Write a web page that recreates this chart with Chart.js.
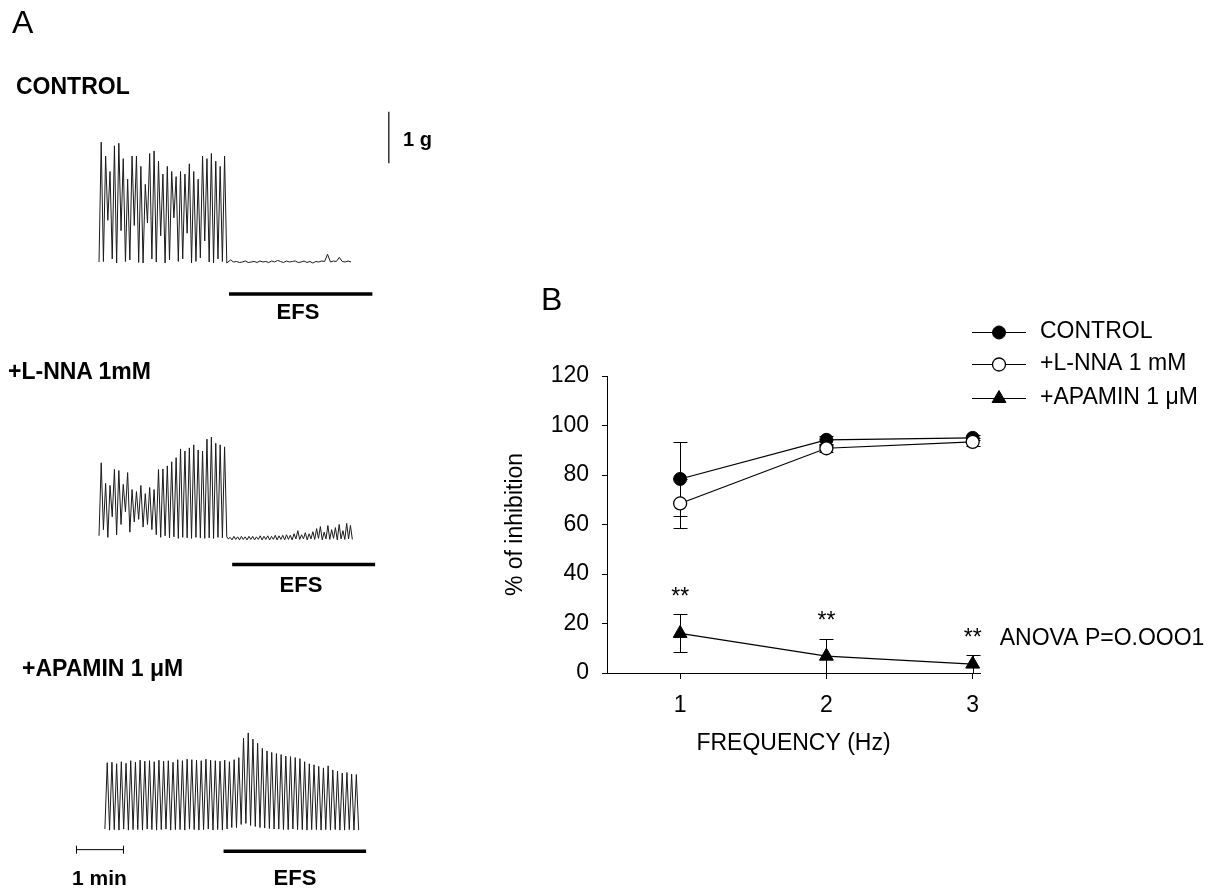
<!DOCTYPE html>
<html>
<head>
<meta charset="utf-8">
<script src="https://cdn.jsdelivr.net/npm/chart.js@4.4.1/dist/chart.umd.min.js"></script>
<style>
  body { margin:0; background:#fff; width:1227px; height:890px; position:relative; overflow:hidden;
         font-family:"Liberation Sans", Arial, sans-serif; color:#000; }
  canvas { position:absolute; }
  .lbl { position:absolute; white-space:nowrap; line-height:1; }
  .b { font-weight:bold; }
  .c { transform:translateX(-50%); }
</style>
</head>
<body>
<canvas id="traces" width="480" height="890" style="left:0;top:0;width:480px;height:890px"></canvas>
<canvas id="freqChart" width="747" height="520" style="left:480px;top:280px;width:747px;height:520px"></canvas>

<div class="lbl" style="left:12px;top:6px;font-size:32px">A</div>
<div class="lbl" style="left:541px;top:283px;font-size:32px">B</div>
<div class="lbl b" style="left:16px;top:75px;font-size:23px">CONTROL</div>
<div class="lbl b" style="left:8px;top:360px;font-size:23px">+L-NNA 1mM</div>
<div class="lbl b" style="left:22px;top:657px;font-size:23px">+APAMIN 1 μM</div>
<div class="lbl b" style="left:403px;top:129px;font-size:20px">1 g</div>
<div class="lbl b c" style="left:298px;top:301px;font-size:22px">EFS</div>
<div class="lbl b c" style="left:301px;top:574px;font-size:22px">EFS</div>
<div class="lbl b c" style="left:295px;top:867px;font-size:22px">EFS</div>
<div class="lbl b" style="left:72px;top:867px;font-size:21px">1 min</div>

<script>
// ---- panel A : tension recordings (g) ----
// each trace = trough, peak, trough, peak ... then the EFS part
const ctrlPeaks = [2.37, 2.10, 1.80, 2.30, 2.35, 2.05, 1.65, 2.10, 2.10, 1.90, 1.55, 2.15, 2.20, 2.00, 1.75,
                   1.90, 1.80, 1.70, 1.80, 1.75, 1.95, 1.80, 1.65, 2.10, 2.05, 2.15, 2.00, 1.90, 2.10];
const ctrlTroughs = [0.04, 0.05, 0.85, 0.10, 0.02, 0.65, 0.05, 0.08, 0.75, 0.03, 0.02, 0.80, 0.10, 0.04, 0.55,
                     0.02, 0.08, 0.90, 0.05, 0.10, 0.60, 0.02, 0.05, 0.12, 0.45, 0.04, 0.02, 0.10, 0.05, 0.02];
const ctrlEfs = [0.08, 0.04, 0.05, 0.03, 0.04, 0.06, 0.03, 0.04, 0.05, 0.03, 0.06, 0.04, 0.05, 0.03,
                 0.06, 0.04, 0.07, 0.05, 0.03, 0.06, 0.04, 0.05, 0.06, 0.03, 0.04, 0.06, 0.03, 0.05,
                 0.02, 0.05, 0.04, 0.06, 0.05, 0.19, 0.04, 0.06, 0.05, 0.13, 0.05, 0.04, 0.06, 0.04];

const lnnaPeaks = [1.50, 1.10, 1.06, 1.37, 1.35, 1.08, 1.31, 0.98, 0.94, 1.06, 0.90, 1.02, 0.98, 1.37, 1.38,
                   1.44, 1.52, 1.60, 1.77, 1.73, 1.79, 1.85, 1.75, 1.73, 1.96, 2.00, 1.88, 1.85, 1.81];
const lnnaTroughs = [0.08, 0.20, 0.05, 0.45, 0.10, 0.30, 0.55, 0.15, 0.35, 0.40, 0.25, 0.30, 0.20, 0.10, 0.05,
                     0.08, 0.04, 0.06, 0.03, 0.05, 0.04, 0.03, 0.05, 0.04, 0.03, 0.04, 0.03, 0.05, 0.04, 0.06];
const lnnaEfsPeaks = [0.05, 0.07, 0.06, 0.07, 0.06, 0.07, 0.07, 0.06, 0.08, 0.07, 0.08, 0.07, 0.09, 0.08, 0.09,
                      0.10, 0.09, 0.12, 0.18, 0.10, 0.14, 0.12, 0.16, 0.22, 0.26, 0.15, 0.28, 0.20, 0.24, 0.30,
                      0.18, 0.32, 0.28];
const lnnaEfsTroughs = [0.02, 0.00, 0.01, 0.00, 0.01, 0.00, 0.01, 0.00, 0.01, 0.00, 0.01, 0.00, 0.01, 0.00, 0.01,
                        0.00, 0.01, 0.00, 0.02, 0.01, 0.02, 0.00, 0.02, 0.01, 0.03, 0.00, 0.02, 0.01, 0.03, 0.00,
                        0.02, 0.01, 0.02, 0.01];

const apaPeaks = [1.32, 1.33, 1.30, 1.34, 1.31, 1.36, 1.33, 1.37, 1.35, 1.36, 1.34, 1.37, 1.35, 1.36, 1.33,
                  1.38, 1.36, 1.39, 1.38, 1.37, 1.36, 1.39, 1.37, 1.36, 1.35, 1.37, 1.34, 1.38, 1.42,
                  1.80, 1.90, 1.78, 1.70, 1.60, 1.55, 1.52, 1.50, 1.48, 1.45, 1.44, 1.42, 1.40, 1.34, 1.30,
                  1.28, 1.25, 1.22, 1.26, 1.18, 1.16, 1.12, 1.13, 1.10, 1.09];
const apaTroughs = [0.03, 0.01, 0.02, 0.01, 0.03, 0.01, 0.02, 0.02, 0.01, 0.03, 0.02, 0.01, 0.02, 0.03, 0.01,
                    0.02, 0.02, 0.01, 0.03, 0.02, 0.01, 0.02, 0.03, 0.01, 0.02, 0.01, 0.03, 0.06,
                    0.06, 0.12, 0.14, 0.10, 0.08, 0.06, 0.05, 0.04, 0.03, 0.03, 0.02, 0.02, 0.03, 0.02,
                    0.02, 0.01, 0.02, 0.02, 0.01, 0.02, 0.01, 0.02, 0.01, 0.01, 0.02, 0.01, 0.01];

// EFS periods (s) for each recording, and the scale bars
const efsStart = [166, 170, 159];
const efsEnd = [349, 352.5, 341];
const gramBar = 1;     // g
const minuteBar = 60;  // s

// ---- panel B : % of inhibition vs frequency ----
const freqs = [1, 2, 3];
const controlMean = [78.4, 94.2, 95.0];
const controlSem = [15.0, 1.5, 1.0];
const lnnaMean = [68.5, 90.8, 93.4];
const lnnaSem = [10.0, 1.5, 1.5];
const apaminMean = [16.0, 6.8, 3.6];
const apaminSem = [7.7, 6.9, 3.5];
const sigLabels = ['**', '**', '**'];
const legendNames = ['CONTROL', '+L-NNA 1 mM', '+APAMIN 1 μM'];

const FONT = '"Liberation Sans", Arial, sans-serif';

// ---------- panel A ----------
const PX_PER_G = 52, H = 890;
function hiddenY(basePx) {
  return { display: false, min: -(H - basePx) / PX_PER_G, max: basePx / PX_PER_G };
}
function buildTrace(t0, half, peaks, troughs) {
  const pts = [];
  for (let i = 0; i < peaks.length; i++) {
    pts.push({ x: t0 + 2 * i * half, y: troughs[i] });
    pts.push({ x: t0 + (2 * i + 1) * half, y: peaks[i] });
  }
  if (troughs.length > peaks.length) pts.push({ x: t0 + 2 * peaks.length * half, y: troughs[peaks.length] });
  return pts;
}
function buildFlat(t0, step, vals) {
  return vals.map((v, i) => ({ x: t0 + i * step, y: v }));
}

const ctrlData = buildTrace(0, 2.8125, ctrlPeaks, ctrlTroughs).concat(buildFlat(168, 3.75, ctrlEfs));
const lnnaData = buildTrace(0, 2.8125, lnnaPeaks, lnnaTroughs).concat(buildTrace(165, 2.4, lnnaEfsPeaks, lnnaEfsTroughs));
const apaData = buildTrace(7.5, 3.0, apaPeaks, apaTroughs);

const traceStyle = { borderColor: '#1a1a1a', borderWidth: 1, pointRadius: 0, tension: 0, fill: false };
const barLevel = [-0.58, -0.48, -0.40];
const axesIds = ['yC', 'yL', 'yA'];

const traceSets = [
  Object.assign({ data: ctrlData, yAxisID: 'yC' }, traceStyle),
  Object.assign({ data: lnnaData, yAxisID: 'yL' }, traceStyle),
  Object.assign({ data: apaData, yAxisID: 'yA' }, traceStyle)
];
efsStart.forEach((s, k) => {
  traceSets.push({ data: [{ x: s, y: barLevel[k] }, { x: efsEnd[k], y: barLevel[k] }], yAxisID: axesIds[k],
                   borderColor: '#000', borderWidth: 3.5, pointRadius: 0, borderCapStyle: 'butt' });
});
// 1 g vertical bar
traceSets.push({ data: [{ x: 370, y: 1.96 }, { x: 370, y: 1.96 + gramBar }], yAxisID: 'yC',
                 borderColor: '#000', borderWidth: 1.2, pointRadius: 0 });
// 1 min horizontal bar with end caps
traceSets.push({ data: [{ x: -28.75, y: -0.37 }, { x: -28.75 + minuteBar, y: -0.37 }], yAxisID: 'yA',
                 borderColor: '#000', borderWidth: 1, pointStyle: 'line', rotation: 90,
                 pointRadius: 4, pointBorderWidth: 1, pointBorderColor: '#000' });

new Chart(document.getElementById('traces'), {
  type: 'line',
  data: { datasets: traceSets },
  options: {
    responsive: false, animation: false,
    plugins: { legend: { display: false }, tooltip: { enabled: false } },
    scales: {
      x: { type: 'linear', display: false, min: -120, max: 480 },
      yC: hiddenY(262),
      yL: hiddenY(541),
      yA: hiddenY(835)
    }
  }
});

// ---------- panel B ----------
const pts = (means) => freqs.map((f, i) => ({ x: f, y: means[i] }));

const errorBars = {
  id: 'errorBars',
  beforeDatasetsDraw(chart) {
    const { ctx, scales: { x, y } } = chart;
    ctx.save();
    ctx.strokeStyle = '#000';
    ctx.lineWidth = 1;
    chart.data.datasets.forEach(ds => {
      ds.data.forEach((p, i) => {
        const e = ds.errors[i];
        const px = Math.round(x.getPixelForValue(p.x)) + 0.5;
        const top = Math.round(y.getPixelForValue(p.y + e)) + 0.5;
        const bot = Math.round(y.getPixelForValue(Math.max(p.y - e, 0))) + 0.5;
        ctx.beginPath();
        ctx.moveTo(px, top); ctx.lineTo(px, bot);
        ctx.moveTo(px - 7, top); ctx.lineTo(px + 7, top);
        ctx.moveTo(px - 7, bot); ctx.lineTo(px + 7, bot);
        ctx.stroke();
      });
    });
    ctx.restore();
  },
  afterDatasetsDraw(chart) {
    const { ctx, scales: { x, y } } = chart;
    ctx.save();
    ctx.fillStyle = '#000';
    ctx.font = '23px ' + FONT;
    ctx.textBaseline = 'middle';
    ctx.textAlign = 'center';
    let lastY = 0;
    freqs.forEach((f, i) => {
      const yy = y.getPixelForValue(apaminMean[i] + apaminSem[i]) - 17;
      ctx.fillText(sigLabels[i], x.getPixelForValue(f), yy);
      lastY = yy;
    });
    ctx.textAlign = 'left';
    ctx.fillText('ANOVA P=O.OOO1', x.getPixelForValue(3) + 27, lastY);

    // legend
    const rows = [52, 84, 118];
    const styles = [
      { pointStyle: 'circle', radius: 6.5, borderWidth: 1, fill: '#000' },
      { pointStyle: 'circle', radius: 6.5, borderWidth: 1.3, fill: '#fff' },
      { pointStyle: 'triangle', radius: 8, borderWidth: 1, fill: '#000' }
    ];
    rows.forEach((ry, k) => {
      ctx.strokeStyle = '#000';
      ctx.lineWidth = 1.2;
      ctx.beginPath();
      ctx.moveTo(492, ry + 0.5); ctx.lineTo(546, ry + 0.5);
      ctx.stroke();
      ctx.fillStyle = styles[k].fill;
      ctx.lineWidth = styles[k].borderWidth;
      Chart.helpers.drawPoint(ctx, styles[k], 519, ry + 0.5);
      ctx.fillStyle = '#000';
      ctx.fillText(legendNames[k], 560, ry);
    });
    ctx.restore();
  }
};

const lineBase = { borderColor: '#000', borderWidth: 1.2, tension: 0, fill: false, pointBorderColor: '#000' };

new Chart(document.getElementById('freqChart'), {
  type: 'line',
  data: {
    datasets: [
      Object.assign({ label: legendNames[0], data: pts(controlMean), errors: controlSem, order: 2,
        pointStyle: 'circle', pointRadius: 6.5, pointBackgroundColor: '#000', pointBorderWidth: 1 }, lineBase),
      Object.assign({ label: legendNames[1], data: pts(lnnaMean), errors: lnnaSem, order: 1,
        pointStyle: 'circle', pointRadius: 6.5, pointBackgroundColor: '#fff', pointBorderWidth: 1.3 }, lineBase),
      Object.assign({ label: legendNames[2], data: pts(apaminMean), errors: apaminSem, order: 0,
        pointStyle: 'triangle', pointRadius: 8, pointBackgroundColor: '#000', pointBorderWidth: 1 }, lineBase)
    ]
  },
  options: {
    responsive: false, animation: false,
    layout: { padding: { left: 0, top: 96, right: 247, bottom: 0 } },
    plugins: { legend: { display: false }, tooltip: { enabled: false } },
    scales: {
      x: {
        type: 'linear', min: 0.5, max: 3.05,
        afterBuildTicks: s => { s.ticks = freqs.map(v => ({ value: v })); },
        afterFit: s => { s.height = 127; },
        grid: { display: true, drawOnChartArea: false, drawTicks: true, tickLength: 6, color: '#000' },
        border: { display: true, color: '#000', width: 1 },
        ticks: { color: '#000', font: { size: 23, family: FONT }, padding: 13 },
        title: { display: true, text: 'FREQUENCY (Hz)', color: '#000', font: { size: 23, family: FONT },
                 padding: { top: 0, bottom: 43 } }
      },
      y: {
        min: 0, max: 120,
        afterFit: s => { s.width = 127; },
        grid: { display: true, drawOnChartArea: false, drawTicks: true, tickLength: 5, color: '#000' },
        border: { display: true, color: '#000', width: 1 },
        ticks: { stepSize: 20, color: '#000', font: { size: 23, family: FONT }, padding: 13 },
        title: { display: true, text: '% of inhibition', color: '#000', font: { size: 23, family: FONT },
                 padding: { top: 22, bottom: 0 } }
      }
    }
  },
  plugins: [errorBars]
});
</script>
</body>
</html>
